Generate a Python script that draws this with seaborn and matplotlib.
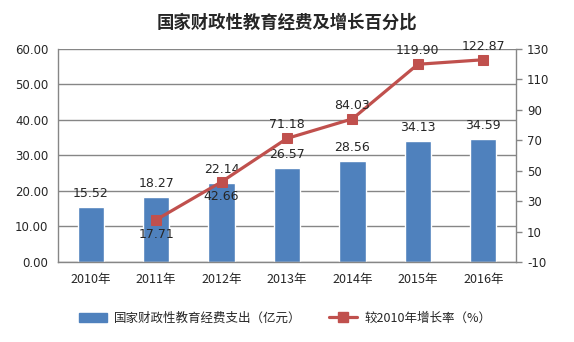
import matplotlib
matplotlib.use("Agg")
import matplotlib.pyplot as plt
import seaborn as sns
import pandas as pd
from matplotlib.lines import Line2D
from matplotlib.patches import Patch

years = ["2010年", "2011年", "2012年", "2013年", "2014年", "2015年", "2016年"]
spending = [15.52, 18.27, 22.14, 26.57, 28.56, 34.13, 34.59]
growth_years = ["2011年", "2012年", "2013年", "2014年", "2015年", "2016年"]
growth = [17.71, 42.66, 71.18, 84.03, 119.90, 122.87]

title = "国家财政性教育经费及增长百分比"
bar_label = "国家财政性教育经费支出（亿元）"
line_label = "较2010年增长率（%）"

sns.set_theme(style="white")
plt.rcParams["font.family"] = ["Noto Sans CJK SC", "DejaVu Sans"]

BLUE = "#4F81BD"
RED = "#C0504D"
GRID = "#868686"
NUM_FONT = ["DejaVu Sans"]

fig = plt.figure(figsize=(5.74, 3.42), dpi=100)
ax = fig.add_axes([0.101, 0.234, 0.798, 0.623])

df_bar = pd.DataFrame({"year": years, "value": spending})
sns.barplot(data=df_bar, x="year", y="value", order=years, color=BLUE,
            saturation=1, width=0.4, ax=ax)
ax.set_ylim(0, 60)
ax.set_xlim(-0.5, 6.5)
ax.set_yticks(range(0, 61, 10))
ax.set_yticklabels([f"{v:.2f}" for v in range(0, 61, 10)], fontsize=8.5,
                   family=NUM_FONT)
ax.set_xlabel("")
ax.set_ylabel("")
ax.tick_params(axis="x", labelsize=9, length=0, pad=8)
ax.tick_params(axis="y", length=0, pad=7)
ax.grid(axis="y", color=GRID, linewidth=1)
ax.set_axisbelow(True)
for side in ["left", "bottom"]:
    ax.spines[side].set_color(GRID)
    ax.spines[side].set_linewidth(1)
ax.spines["top"].set_visible(False)
ax.spines["right"].set_visible(False)

for i, v in enumerate(spending):
    ax.annotate(f"{v:.2f}", (i, v), xytext=(0, 5), textcoords="offset points",
                ha="center", va="bottom", fontsize=9, family=NUM_FONT)

ax2 = ax.twinx()
gx = [years.index(y) for y in growth_years]
df_line = pd.DataFrame({"x": gx, "g": growth})
sns.lineplot(data=df_line, x="x", y="g", color=RED, linewidth=2.3, marker="s",
             markersize=7, markeredgecolor=RED, ax=ax2)
ax2.set_ylim(-10, 130)
ax2.set_xlim(-0.5, 6.5)
ax2.set_yticks(range(-10, 131, 20))
ax2.set_yticklabels([str(v) for v in range(-10, 131, 20)], fontsize=8.5,
                    family=NUM_FONT)
ax2.set_ylabel("")
ax2.set_xlabel("")
ax2.tick_params(axis="y", length=4, width=1, color=GRID, pad=4, right=True)
for side in ["top", "left", "bottom"]:
    ax2.spines[side].set_visible(False)
ax2.spines["right"].set_color(GRID)
ax2.spines["right"].set_linewidth(1)

# value labels: first two below the markers, the rest above
for x, v in zip(gx, growth):
    below = v < 50
    ax2.annotate(f"{v:.2f}", (x, v), xytext=(0, -6 if below else 5),
                 textcoords="offset points", ha="center",
                 va="top" if below else "bottom", fontsize=9, family=NUM_FONT)

fig.text(0.5, 0.935, title, ha="center", va="center", fontsize=12.5,
         fontweight="bold")

handles = [Patch(facecolor=BLUE, edgecolor=BLUE),
           Line2D([0], [0], color=RED, linewidth=2.3, marker="s", markersize=7)]
fig.legend(handles, [bar_label, line_label], loc="center",
           bbox_to_anchor=(0.497, 0.07), ncol=2, frameon=False, fontsize=9,
           handlelength=2.2, columnspacing=2.2, handletextpad=0.6)

fig.savefig("out.png", dpi=100)
